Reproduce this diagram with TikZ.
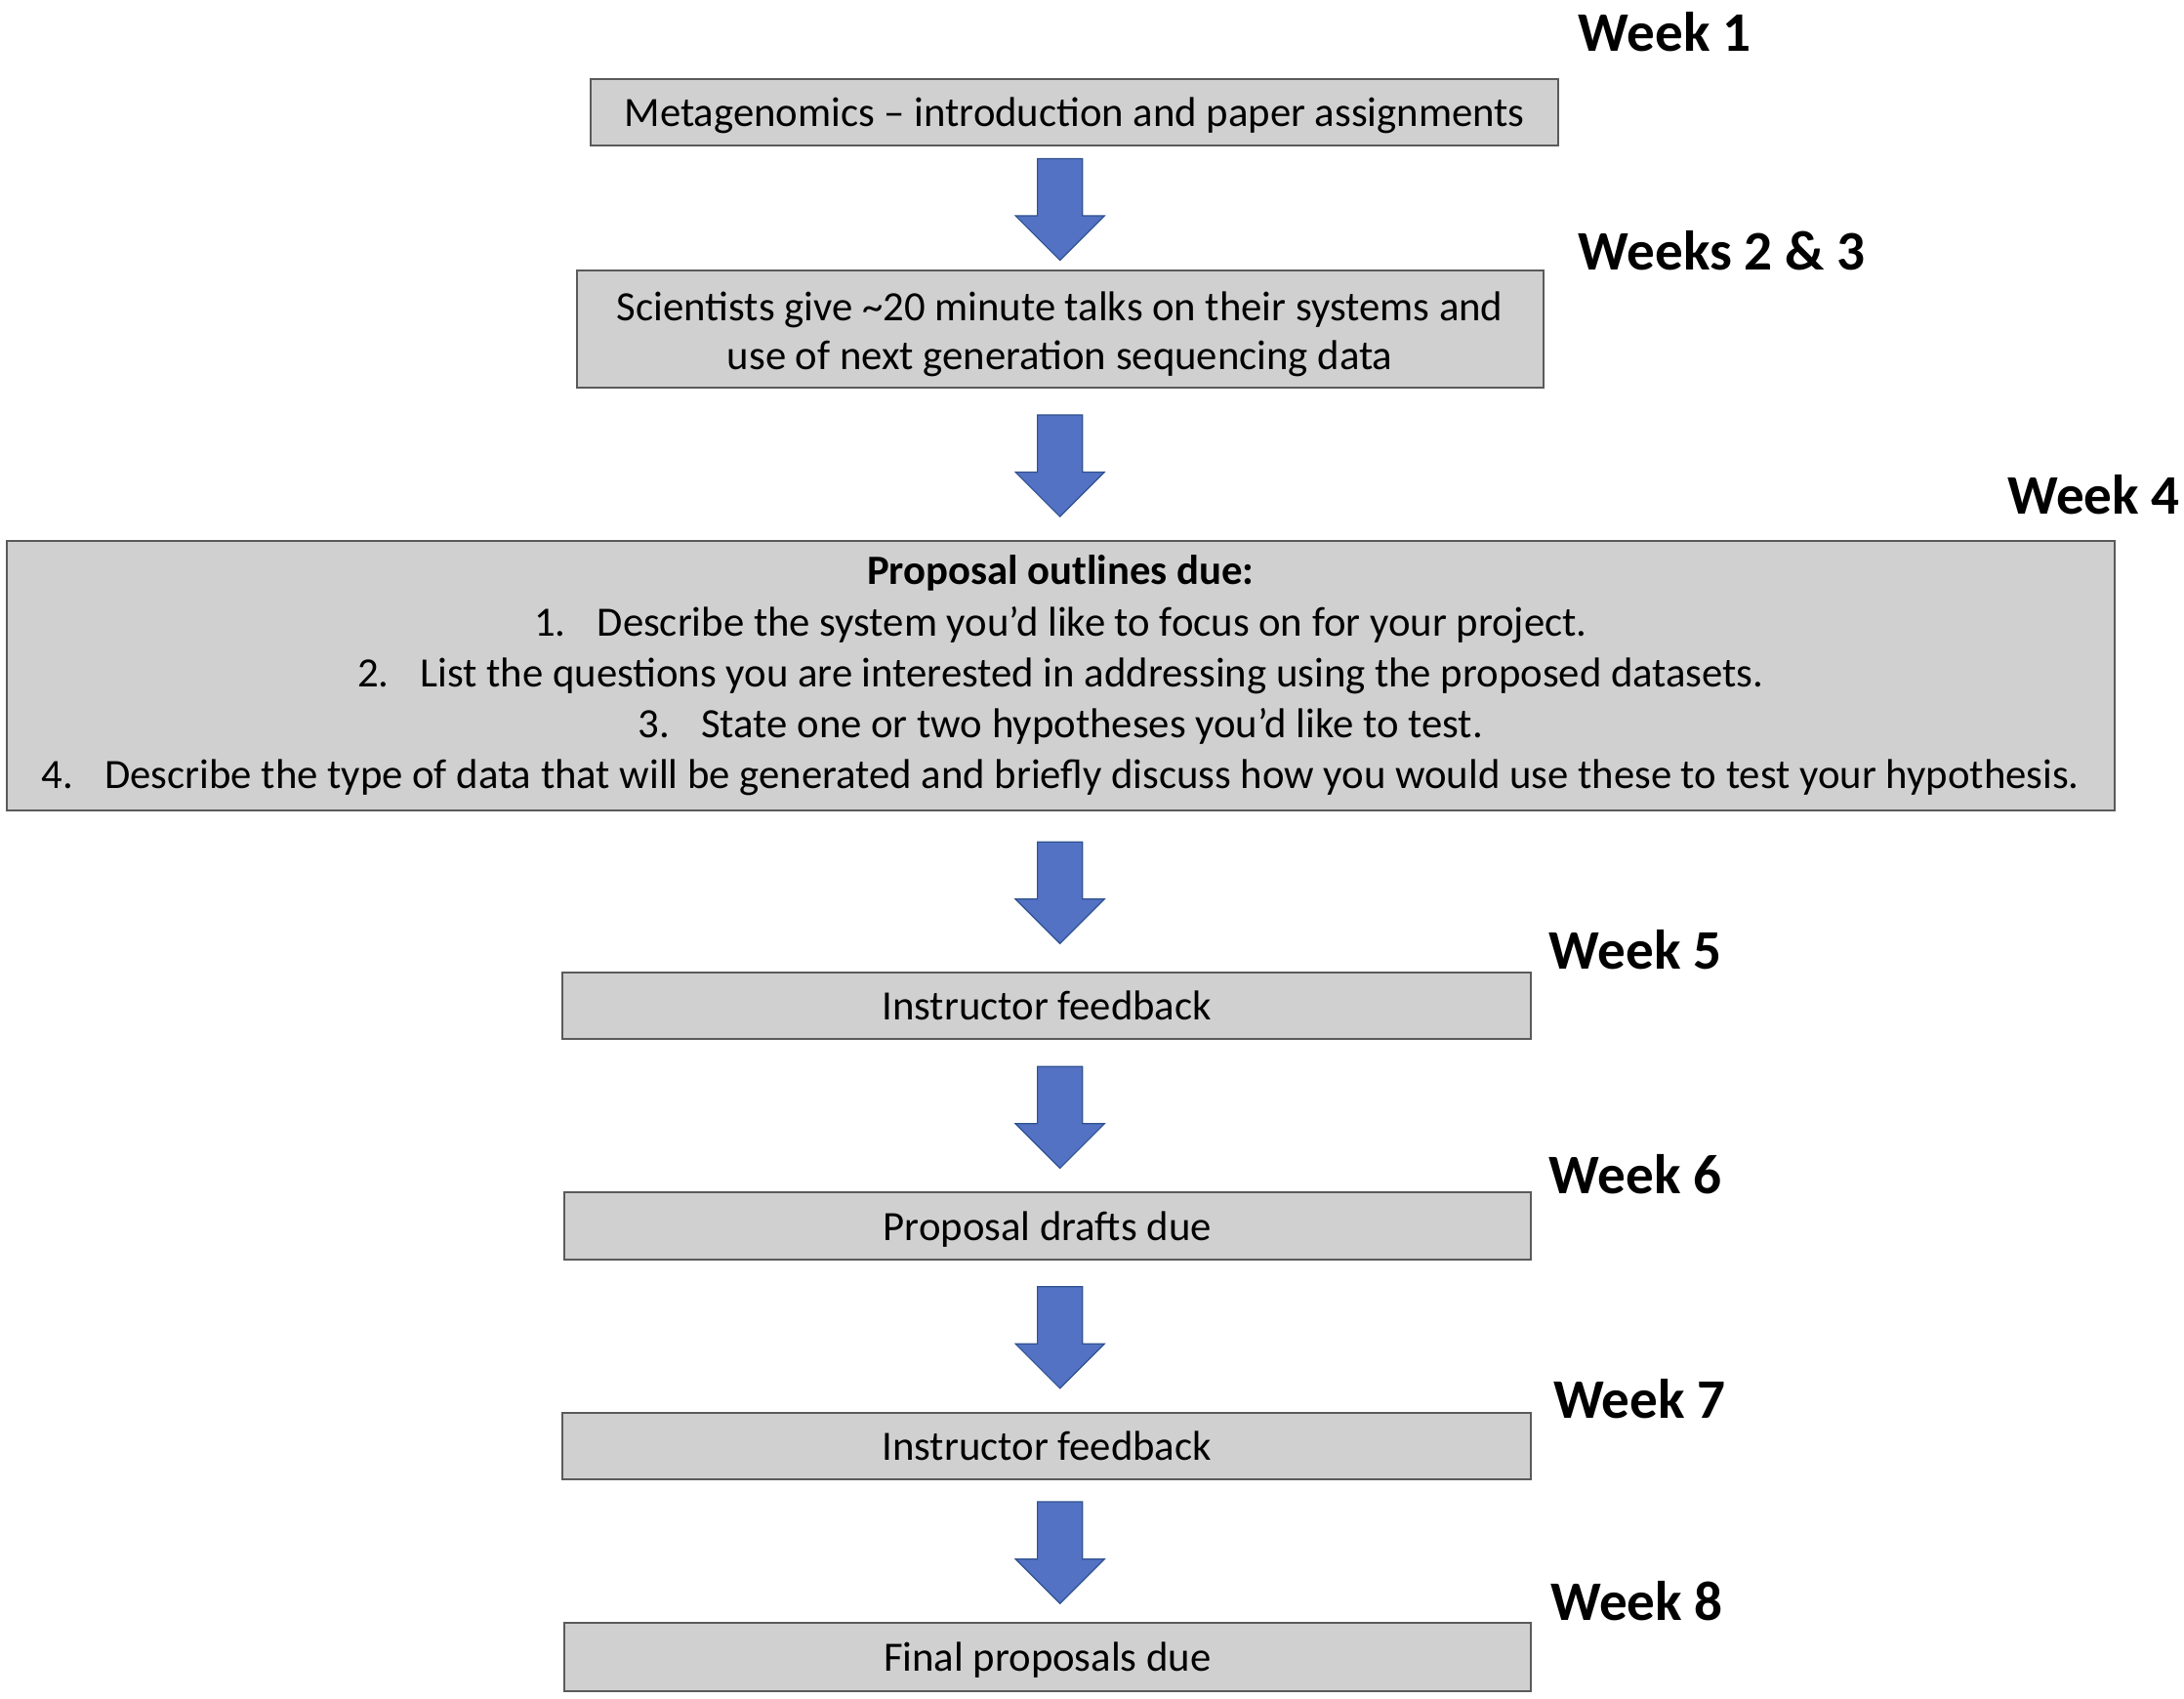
\documentclass[tikz,border=0pt]{standalone}
\usepackage{fontspec}
\setmainfont{Carlito}
\usepackage{tikz}
\usetikzlibrary{shapes.arrows}
\usetikzlibrary{positioning}
\definecolor{boxgray}{RGB}{208,208,208}
\definecolor{boxline}{RGB}{90,90,90}
\definecolor{arrowblue}{RGB}{84,114,196}
\definecolor{arrowline}{RGB}{47,82,143}
\tikzstyle{weekbox} = [rectangle, minimum width=173.75mm, minimum height=12mm, text centered, text depth=0pt, draw=boxline, fill=boxgray, line width=1pt, inner sep=0pt, font=\fontsize{21.3}{25}\selectfont]
\tikzstyle{weeklabel} = [anchor=base west, inner sep=0pt, font=\fontsize{28.5}{34}\selectfont\bfseries]
\tikzstyle{blockarrow} = [single arrow, rotate=-90, xshift=-1.75mm, minimum height=18.25mm, minimum width=15.75mm, single arrow head extend=3.94mm, single arrow head indent=0pt, inner xsep=0pt, inner ysep=3.94mm, draw=arrowline, fill=arrowblue, line width=0.6pt]

\begin{document}
\begin{tikzpicture}[x=0.25mm, y=-0.25mm]
        \useasboundingbox (0,0) rectangle (1568,1219.6);
        \coordinate (axis) at (761,0);

        % one box per week
        \node (w1box) [weekbox] at (771.5,80.5) {Metagenomics – introduction and paper assignments};
        \node (w23box) [weekbox, minimum width=173.5mm, minimum height=21mm, align=center, text depth=] at (761,236) {\rule{0pt}{20.5pt}Scientists give \textasciitilde20 minute talks on their systems and\\use of next generation sequencing data};
        \node (w4box) [weekbox, minimum width=378.25mm, minimum height=48.25mm, align=center, text depth=, font=\fontsize{21.3}{26}\selectfont] at (761.5,485) {\textbf{Proposal outlines due:}\\
            1.\hspace{16pt}Describe the system you’d like to focus on for your project.\\
            2.\hspace{16pt}List the questions you are interested in addressing using the proposed datasets.\\
            3.\hspace{16pt}State one or two hypotheses you’d like to test.\\
            4.\hspace{16pt}Describe the type of data that will be generated and briefly discuss how you would use these to test your hypothesis.};
        \node (w5box) [weekbox] at (751.5,722) {Instructor feedback};
        \node (w6box) [weekbox, minimum width=173.5mm] at (752,880) {Proposal drafts due};
        \node (w7box) [weekbox] at (751.5,1038) {Instructor feedback};
        \node (w8box) [weekbox, minimum width=173.5mm, minimum height=12.25mm] at (752,1189.5) {Final proposals due};

        % week labels
        \node (w1label) [weeklabel] at (1133,37) {Week 1};
        \node (w23label) [weeklabel] at (1133,193.5) {Weeks 2 \& 3};
        \node (w4label) [weeklabel] at (1441,369) {Week 4};
        \node (w5label) [weeklabel] at (1112,696) {Week 5};
        \node (w6label) [weeklabel] at (1112,857) {Week 6};
        \node (w7label) [weeklabel] at (1115,1018) {Week 7};
        \node (w8label) [weeklabel] at (1113,1163.5) {Week 8};

        % block arrows between the boxes
        \path (w1box.south -| axis) -- node[blockarrow] {} (w23box.north -| axis);
        \path (w23box.south -| axis) -- node[blockarrow] {} (w4box.north -| axis);
        \path (w4box.south -| axis) -- node[blockarrow] {} (w5box.north -| axis);
        \path (w5box.south -| axis) -- node[blockarrow] {} (w6box.north -| axis);
        \path (w6box.south -| axis) -- node[blockarrow] {} (w7box.north -| axis);
        \path (w7box.south -| axis) -- node[blockarrow] {} (w8box.north -| axis);
\end{tikzpicture}
\end{document}
